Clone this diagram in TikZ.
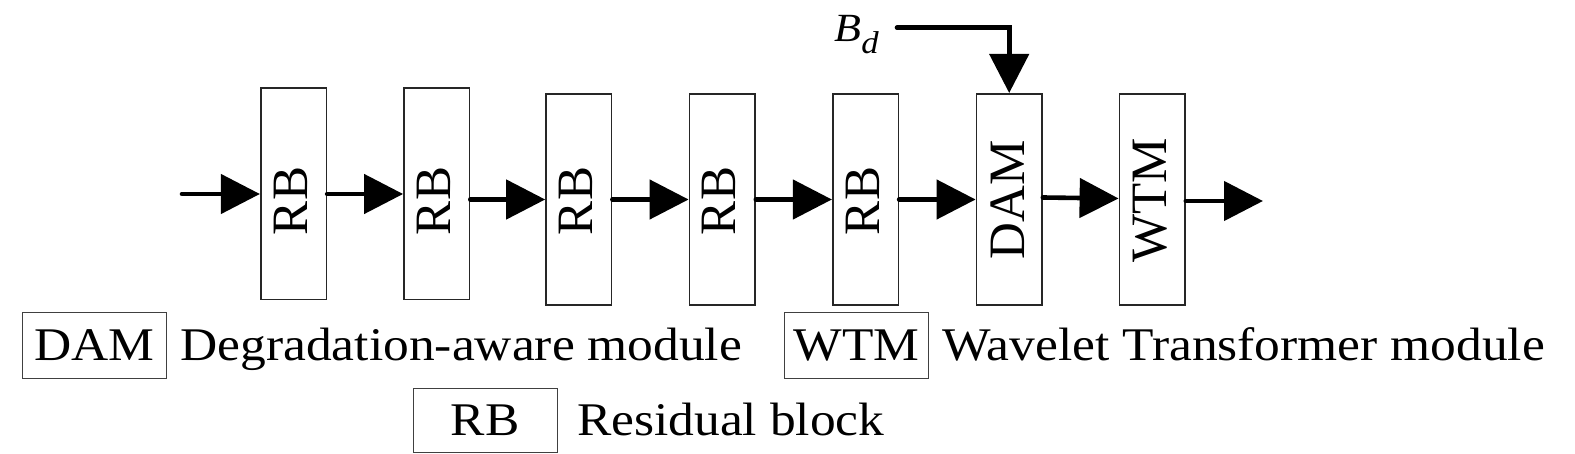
\documentclass[tikz,border=0pt]{standalone}
\usepackage{fontspec}
\setmainfont{Liberation Serif}[FakeStretch=1.1]
\newfontfamily\rotfont{Liberation Serif}
\usetikzlibrary{arrows.meta,calc}
\begin{document}
\begin{tikzpicture}[x=0.5pt,y=-0.5pt,
  blk/.style={draw=black!85, line width=0.8pt, minimum width=32.8pt, minimum height=105.7pt, inner sep=0pt},
  rlab/.style={rotate=90, inner sep=0pt, font=\rotfont\fontsize{25.5}{30}\selectfont},
  conn/.style={line width=2.3pt, line cap=round, -{Triangle[length=19.5pt,width=19.5pt]}},
  legbox/.style={draw=black!75, line width=0.7pt, minimum width=72pt, inner sep=0pt, font=\fontsize{23.4}{28}\selectfont},
  legtxt/.style={anchor=base west, inner sep=0pt, font=\fontsize{23.4}{28}\selectfont}]
\useasboundingbox (0,0) rectangle (1575,454);
% main blocks
\node[blk] (RB1) at (293.5,194) {};
\node[blk] (RB2) at (436.7,194) {};
\node[blk] (RB3) at (578.8,199.5) {};
\node[blk] (RB4) at (722.2,199.5) {};
\node[blk] (RB5) at (865.5,199.5) {};
\node[blk] (DAM) at (1009.2,199.5) {};
\node[blk] (WTM) at (1152.2,199.5) {};
% rotated labels
\node[rlab] (RB1t) at (290.5,201) {RB};
\node[rlab] (RB2t) at (433.7,201) {RB};
\node[rlab] (RB3t) at (575.8,201) {RB};
\node[rlab] (RB4t) at (719.2,201) {RB};
\node[rlab] (RB5t) at (862.5,201) {RB};
\node[rlab] (DAMt) at (1007.5,200) {DAM};
\node[rlab] (WTMt) at (1150.5,200) {WTM};
% free ends
\coordinate (in) at (182,194);
\coordinate (out) at (1263,201);
\coordinate (bdin) at (897,27.7);
% connectors
\draw[conn] (in) -- (RB1.west);
\draw[conn] (RB1.east) -- (RB2.west);
\draw[conn] (RB2.east |- RB3.west) -- (RB3.west);
\draw[conn] (RB3.east) -- (RB4.west);
\draw[conn] (RB4.east) -- (RB5.west);
\draw[conn] (RB5.east) -- (DAM.west);
\draw[conn] ($(DAM.east)+(0,-2)$) -- ($(WTM.west)+(0,-1)$);
\draw[conn] (WTM.east |- out) -- (out);
\draw[conn] (bdin) -| (DAM.north);
% B_d label
\node[anchor=base west, inner sep=0pt, font=\fontsize{20}{24}\selectfont] (Bd) at (834,41.7) {\itshape B\raisebox{-5.8pt}{\fontsize{15.8}{18}\selectfont d}};
% legend
\node[legbox, minimum height=32.8pt] (kDAM) at (94.7,345.5) {DAM};
\node[legtxt] (tDAM) at (180,360) {Degradation-aware module};
\node[legbox, minimum height=32.8pt] (kWTM) at (856.7,345.5) {WTM};
\node[legtxt] (tWTM) at (941.7,360) {Wavelet Transformer module};
\node[legbox, minimum height=32pt] (kRB) at (485.3,420.3) {RB};
\node[legtxt] (tRB) at (576.7,435) {Residual block};
\end{tikzpicture}
\end{document}
